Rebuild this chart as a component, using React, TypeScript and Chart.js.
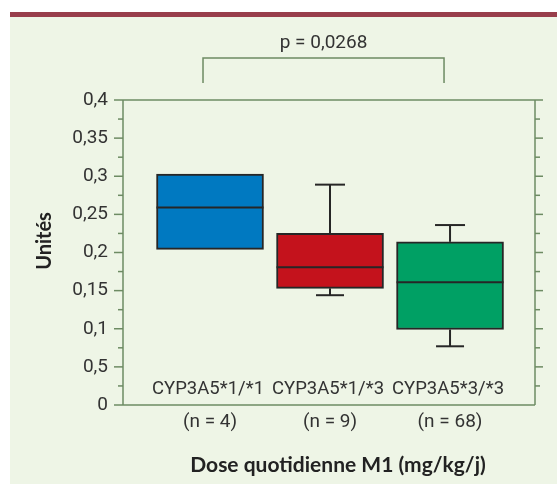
import { useEffect, useRef } from 'react';
import { Chart, registerables } from 'chart.js';

Chart.register(...registerables);

const categories = ['CYP3A5*1/*1', 'CYP3A5*1/*3', 'CYP3A5*3/*3'];
const nLabels = ['(n = 4)', '(n = 9)', '(n = 68)'];
const q1Values = [0.204, 0.153, 0.099];
const medianValues = [0.259, 0.1805, 0.161];
const q3Values = [0.303, 0.225, 0.214];
const minValues = [0.204, 0.144, 0.077];
const maxValues = [0.303, 0.289, 0.236];
const yTickLabels = ['0', '0,5', '0,1', '0,15', '0,2', '0,25', '0,3', '0,35', '0,4'];
const yMin = 0;
const yMax = 0.4;
const yStep = 0.05;
const pValueText = 'p = 0,0268';
const compareFrom = 0;
const compareTo = 2;
const xTitle = 'Dose quotidienne M1 (mg/kg/j)';
const yTitle = 'Unités';

const boxColors = ['#0079c1', '#c4121c', '#00a064'];
const FONT = "Roboto, 'DejaVu Sans', sans-serif";
const BOLD = "Lato, 'Open Sans', sans-serif";
const AXIS = '#6d8b63';
const BOX_W = 107;

const decor = {
  id: 'decor',
  beforeDraw(chart: any) {
    const { ctx, width, height } = chart;
    ctx.save();
    ctx.fillStyle = '#ffffff';
    ctx.fillRect(0, 0, width, height);
    ctx.fillStyle = '#eef5e6';
    ctx.fillRect(10, 12, width - 10, height - 12);
    ctx.fillStyle = '#983e4b';
    ctx.fillRect(10, 12, width - 10, 5);
    ctx.restore();
  },
  afterDatasetsDraw(chart: any) {
    const { ctx, chartArea: ca, scales } = chart;
    const x = scales.x;
    const y = scales.y;
    const seg = (x1: number, y1: number, x2: number, y2: number) => {
      ctx.beginPath();
      ctx.moveTo(x1, y1);
      ctx.lineTo(x2, y2);
      ctx.stroke();
    };
    ctx.save();
    // medians and whiskers
    ctx.strokeStyle = '#262626';
    ctx.lineWidth = 2;
    const half = BOX_W / 2;
    categories.forEach((_, i) => {
      const cx = x.getPixelForValue(i);
      const m = y.getPixelForValue(medianValues[i]);
      seg(cx - half, m, cx + half, m);
      if (maxValues[i] > q3Values[i]) {
        const a = y.getPixelForValue(q3Values[i]);
        const b = y.getPixelForValue(maxValues[i]);
        seg(cx, a, cx, b);
        seg(cx - 15, b, cx + 15, b);
      }
      if (minValues[i] < q1Values[i]) {
        const a = y.getPixelForValue(q1Values[i]);
        const b = y.getPixelForValue(minValues[i]);
        seg(cx, a, cx, b);
        seg(cx - 14, b, cx + 14, b);
      }
    });
    // axes frame
    ctx.strokeStyle = AXIS;
    ctx.lineWidth = 1.5;
    seg(ca.left, ca.top, ca.left, ca.bottom);
    seg(ca.right, ca.top, ca.right, ca.bottom);
    seg(ca.left, ca.top, ca.right, ca.top);
    seg(ca.left, ca.bottom, ca.right, ca.bottom);
    const nMinor = Math.round((yMax - yMin) / (yStep / 2));
    for (let k = 0; k <= nMinor; k++) {
      const v = yMin + (k * yStep) / 2;
      const py = y.getPixelForValue(v);
      const major = k % 2 === 0;
      seg(ca.left - (major ? 9 : 5), py, ca.left, py);
      if (k > 0) seg(ca.right, py, ca.right + (major ? 8 : 5), py);
    }
    // comparison bracket
    const bx1 = x.getPixelForValue(compareFrom) - 7;
    const bx2 = x.getPixelForValue(compareTo) - 6;
    const by = ca.top - 42;
    ctx.beginPath();
    ctx.moveTo(bx1, ca.top - 17);
    ctx.lineTo(bx1, by);
    ctx.lineTo(bx2, by);
    ctx.lineTo(bx2, ca.top - 17);
    ctx.stroke();
    // texts
    ctx.fillStyle = '#333333';
    ctx.font = `19px ${FONT}`;
    ctx.textAlign = 'center';
    ctx.textBaseline = 'middle';
    ctx.fillText(pValueText, (bx1 + bx2) / 2, by - 15);
    const yc = y.getPixelForValue(0) - 16;
    ctx.font = `18.5px ${FONT}`;
    categories.forEach((c, i) => {
      ctx.fillText(c, x.getPixelForValue(i) - 2, yc);
    });
    ctx.fillStyle = '#222222';
    ctx.font = `bold 21px ${BOLD}`;
    ctx.fillText(xTitle, 338, 465);
    ctx.save();
    ctx.translate(45, 241);
    ctx.rotate(-Math.PI / 2);
    ctx.font = `bold 20px ${BOLD}`;
    ctx.fillText(yTitle, 0, 0);
    ctx.restore();
    ctx.restore();
  },
};

export default function App() {
  const ref = useRef<HTMLCanvasElement | null>(null);
  useEffect(() => {
    if (!ref.current) return;
    const chart = new Chart(ref.current, {
      type: 'bar',
      data: {
        datasets: [
          {
            data: categories.map((_, i) => ({ x: i, y: [q1Values[i], q3Values[i]] })) as any,
            backgroundColor: boxColors,
            borderColor: '#262626',
            borderWidth: 2,
            borderSkipped: false,
            barThickness: BOX_W,
          },
        ],
      },
      options: {
        animation: false,
        responsive: false,
        maintainAspectRatio: false,
        layout: { padding: { top: 100, right: 22, bottom: 0, left: 0 } },
        plugins: { legend: { display: false }, tooltip: { enabled: false } },
        scales: {
          x: {
            type: 'linear',
            offset: false,
            min: -0.725,
            max: 2.708,
            grid: { display: false, drawTicks: false, offset: false },
            border: { display: false },
            afterBuildTicks: (s: any) => {
              s.ticks = categories.map((_, i) => ({ value: i }));
            },
            afterFit: (s: any) => {
              s.height = 79;
            },
            ticks: {
              autoSkip: false,
              maxRotation: 0,
              padding: 6,
              color: '#333333',
              font: { family: FONT, size: 19 },
              callback: (v: any) => nLabels[Math.round(Number(v))] ?? '',
            },
          },
          y: {
            min: yMin,
            max: yMax,
            grid: { display: false, drawTicks: false },
            border: { display: false },
            afterFit: (s: any) => {
              s.width = 123;
            },
            ticks: {
              stepSize: yStep,
              padding: 15,
              color: '#333333',
              font: { family: FONT, size: 19 },
              callback: (_v: any, i: number) => yTickLabels[i] ?? '',
            },
          },
        },
      },
      plugins: [decor],
    });
    return () => chart.destroy();
  }, []);
  return (
    <div style={{ position: 'fixed', left: 0, top: 0, width: 557, height: 484 }}>
      <canvas ref={ref} width={557} height={484} style={{ display: 'block', width: 557, height: 484 }} />
    </div>
  );
}
